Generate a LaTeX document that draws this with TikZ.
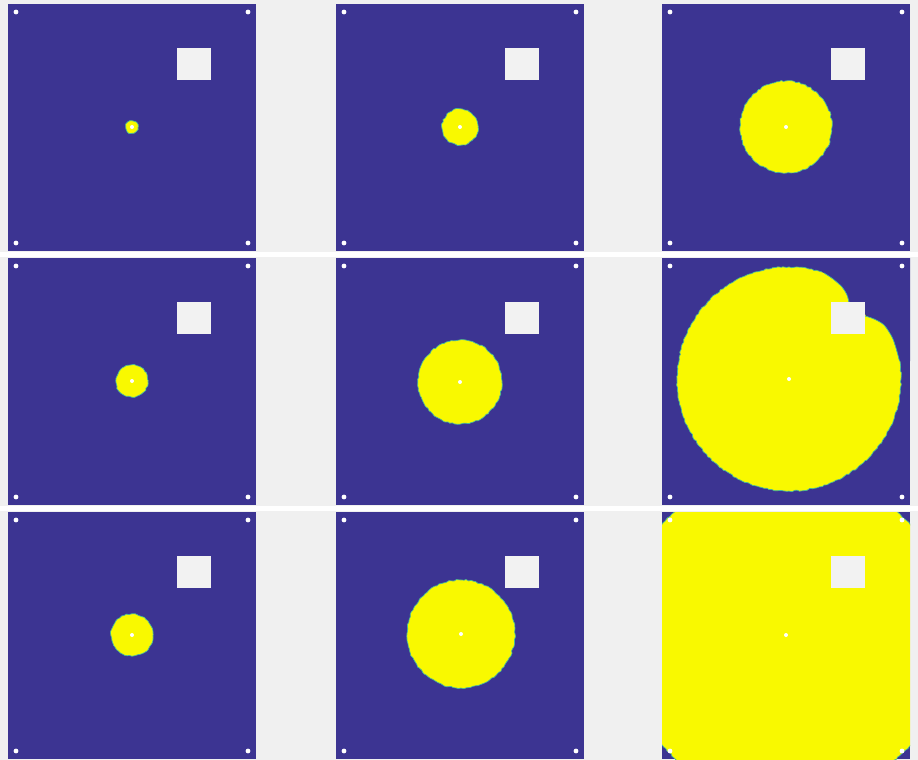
\documentclass[tikz,border=0pt]{standalone}
\usepackage{tikz}
\usetikzlibrary{positioning,decorations.pathmorphing}
\usepackage{xcolor}
\definecolor{figbg}{HTML}{F0F0F0}
\definecolor{field}{HTML}{3C3492}
\definecolor{front}{HTML}{F9F900}
\definecolor{rim}{HTML}{46B89A}
\definecolor{block}{HTML}{F2F2F2}
\tikzset{
  panel/.style={fill=field},
  wave/.style={fill=front,draw=rim,line width=0.7pt,
    decorate,decoration={random steps,segment length=2.5pt,amplitude=0.7pt}},
  sensor/.style={fill=white},
}
\pgfmathsetseed{7}
\begin{document}
\begin{tikzpicture}[x=1pt,y=-1pt]
  \useasboundingbox (0,0) rectangle (918,760);
  \fill[figbg] (0,0) rectangle (918,760);
  \fill[white] (0,252) rectangle (918,257);
  \fill[white] (0,506) rectangle (918,511);
  \foreach \px/\py/\rad/\cx/\cy in {8/4/6/124/123,336/4/18/124/123,662/4/46/124/123,
      8/258/16/124/123,336/258/42/124/124,662/258/112/127/121,
      8/512/21/124/123,336/512/54/125/122,662/512/166/124/123}{
    \begin{scope}[shift={(\px,\py)}]
      \fill[panel] (0,0) rectangle (248,247);
      \begin{scope}
        \clip (0,0) rectangle (248,247);
        \path[wave] (\cx,\cy) circle[radius=\rad];
        % shadow behind the block
        \ifnum\rad=112
          \fill[field] (160,-5) -- (160,14) -- plot[smooth] coordinates {(162,15) (171,21) (180,29) (185,37) (187,46)}
            -- (200,50) -- plot[smooth] coordinates {(204,58) (212,61) (222,67) (230,79) (234,90) (237.5,103)}
            -- (260,103) -- (260,-5) -- cycle;
          \draw[rim,line width=0.7pt] plot[smooth] coordinates {(162,15) (171,21) (180,29) (185,37) (187,44)};
          \draw[rim,line width=0.7pt] plot[smooth] coordinates {(203,58) (212,61) (222,67) (230,79) (234,90) (237.5,103)};
        \fi
      \end{scope}
      \fill[white] (\cx,\cy) circle[radius=2];
      \fill[block] (169,44) rectangle (203,76);
      \foreach \dx/\dy in {8/8,240/8,8/239,240/239}
        \fill[sensor] (\dx,\dy) circle[radius=2.4];
    \end{scope}
  }
\end{tikzpicture}
\end{document}
